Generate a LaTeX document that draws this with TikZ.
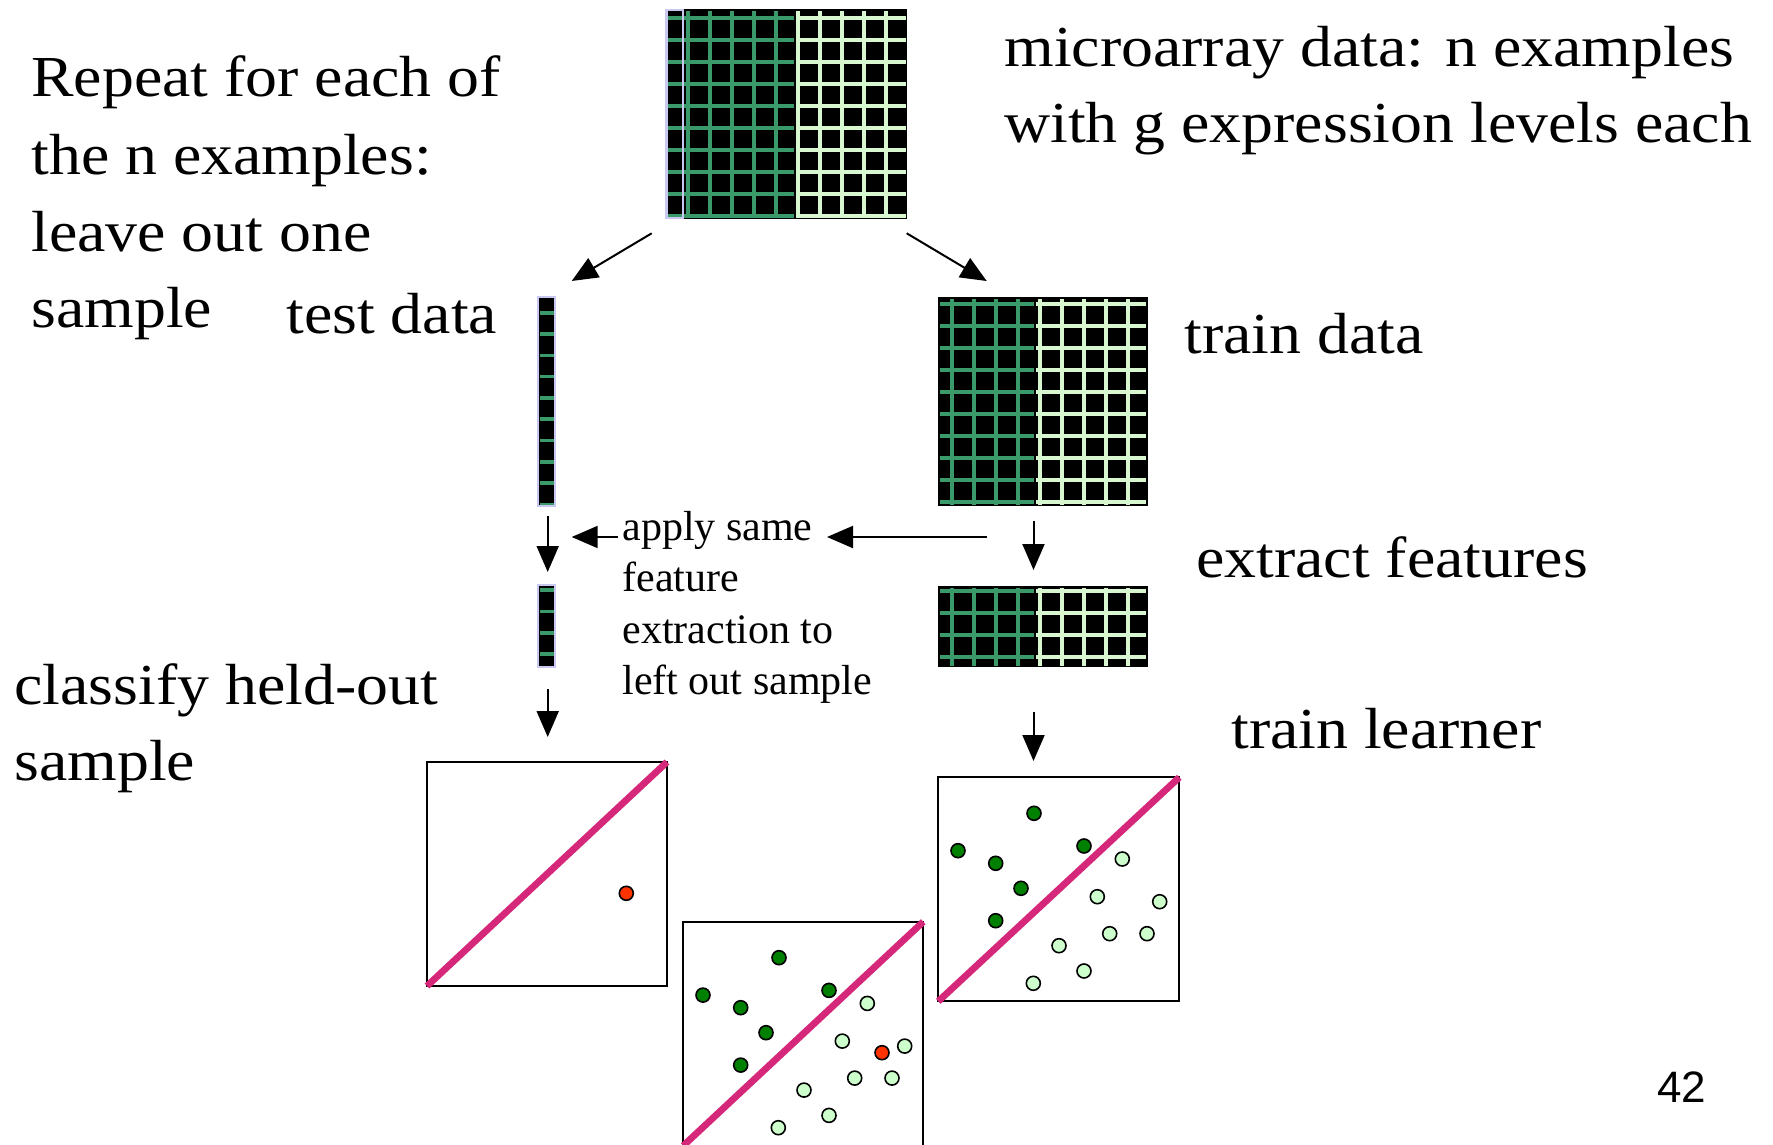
\documentclass[tikz,border=0pt]{standalone}
\usepackage{fontspec}
\setmainfont{Liberation Serif}
\newfontfamily\bigserif[FakeStretch=1.10]{Liberation Serif}
\newfontfamily\pagesans{Liberation Sans}
\usetikzlibrary{arrows.meta}

\definecolor{gridgreen}{RGB}{58,154,106}
\definecolor{gridlight}{RGB}{216,246,208}
\definecolor{rowmark}{RGB}{200,200,240}
\definecolor{boundary}{RGB}{214,40,122}
\definecolor{classA}{RGB}{0,128,0}
\definecolor{classB}{RGB}{204,255,204}
\definecolor{query}{RGB}{255,51,0}

\begin{document}
\begin{tikzpicture}[x=0.5pt,y=-0.5pt,
  bigtext/.style={anchor=base west, inner sep=0pt, font=\bigserif\fontsize{29}{34}\selectfont},
  smalltext/.style={anchor=base west, inner sep=0pt, font=\fontsize{21}{25}\selectfont},
  flow/.style={-{Triangle[length=13pt,width=11pt]}, line width=1pt},
  gline/.style={gridgreen, line width=1.8pt},
  lline/.style={gridlight, line width=1.8pt},
  frame/.style={draw=black, line width=1.1pt},
  sep/.style={boundary, line width=3.4pt},
  dotA/.style={fill=classA, draw=black, line width=0.8pt},
  dotB/.style={fill=classB, draw=black, line width=0.8pt},
  dotQ/.style={fill=query, draw=black, line width=0.8pt}]

\useasboundingbox (0,0) rectangle (1773,1145);

% ---------- full expression matrix ----------
\fill[black] (667,9) rectangle (907,219);
\foreach \y in {18,40,...,216} {
  \draw[gline] (667,\y) -- (794,\y);
  \draw[lline] (796,\y) -- (906,\y);
}
\foreach \x in {688,710,...,776} \draw[gline] (\x,11) -- (\x,218);
\foreach \x in {798,820,...,886} \draw[lline] (\x,11) -- (\x,218);
\draw[rowmark, line width=1.2pt] (666.5,10) rectangle (683,218);

% ---------- training matrix ----------
\fill[black] (938,297) rectangle (1148,506);
\foreach \y in {304,326,...,502} {
  \draw[gline] (940,\y) -- (1034,\y);
  \draw[lline] (1036,\y) -- (1146,\y);
}
\foreach \x in {952,974,996,1018} \draw[gline] (\x,299) -- (\x,505);
\foreach \x in {1040,1062,...,1128} \draw[lline] (\x,299) -- (\x,505);

% ---------- training matrix after feature extraction ----------
\fill[black] (938,586) rectangle (1148,667);
\foreach \y in {591,613,635,657} {
  \draw[gline] (940,\y) -- (1034,\y);
  \draw[lline] (1036,\y) -- (1146,\y);
}
\foreach \x in {952,974,996,1018} \draw[gline] (\x,588) -- (\x,666);
\foreach \x in {1040,1062,...,1128} \draw[lline] (\x,588) -- (\x,666);

% ---------- held-out column ----------
\fill[black] (538,297) rectangle (555,506);
\foreach \k in {0,...,9} \draw[gline] (540,{312.7+21.3*\k}) -- (554,{312.7+21.3*\k});
\draw[rowmark, line width=1pt] (538,297) rectangle (555,506);

% ---------- held-out column after feature extraction ----------
\fill[black] (538,585) rectangle (555,667);
\foreach \y in {590,611.3,632.7,654} \draw[gline] (540,\y) -- (554,\y);
\draw[rowmark, line width=1pt] (538,585) rectangle (555,667);

% ---------- classifier applied to the held-out sample ----------
\begin{scope}[shift={(427,762)}]
  \draw[frame] (0,0) rectangle (240,224);
  \draw[sep] (0,224) -- (240,0);
  \fill[dotQ] (199.3,131.3) circle[radius=3.5pt];
\end{scope}

% ---------- learner with the held-out sample added ----------
\begin{scope}[shift={(683.3,921.7)}]
  \draw[frame] (0,226) -- (0,0) -- (240,0) -- (240,226);
  \draw[sep] (0,224) -- (240,0);
  \foreach \p in {(95.7,36),(19.7,73.4),(57.4,86),(145.7,68.7),(82.7,111),(57.4,143.4)}
    \fill[dotA] \p circle[radius=3.5pt];
  \foreach \p in {(184,81.7),(159,119.4),(221.4,124.4),(171.4,156.4),(208.7,156.4),(120.7,168.4),(145.7,193.7),(95,206)}
    \fill[dotB] \p circle[radius=3.5pt];
  \fill[dotQ] (198.7,131) circle[radius=3.5pt];
\end{scope}

% ---------- trained learner ----------
\begin{scope}[shift={(938.3,777.3)}]
  \draw[frame] (0,0) rectangle (241,224);
  \draw[sep] (0,224) -- (241,0);
  \foreach \p in {(95.7,36),(19.7,73.4),(57.4,86),(145.7,68.7),(82.7,111),(57.4,143.4)}
    \fill[dotA] \p circle[radius=3.5pt];
  \foreach \p in {(184,81.7),(159,119.4),(221.4,124.4),(171.4,156.4),(208.7,156.4),(120.7,168.4),(145.7,193.7),(95,206)}
    \fill[dotB] \p circle[radius=3.5pt];
\end{scope}

% ---------- labels ----------
\node[bigtext] (rep1) at (31,97)  {Repeat for each of};
\node[bigtext] (rep2) at (31,175) {the n examples:};
\node[bigtext] (rep3) at (31,251) {leave out one};
\node[bigtext] (rep4) at (31,327) {sample};
\node[bigtext] (test) at (286,333) {test data};
\node[bigtext] (micro1) at (1004,67)  {microarray data: n examples};
\node[bigtext] (micro2) at (1004,143) {with g expression levels each};
\node[bigtext] (train) at (1184,353) {train data};
\node[bigtext] (extract) at (1196,577) {extract features};
\node[bigtext] (learn) at (1231,748) {train learner};
\node[bigtext] (cls1) at (14,704) {classify held-out};
\node[bigtext] (cls2) at (14,780) {sample};
\node[smalltext] (apply1) at (622,540) {apply same};
\node[smalltext] (apply2) at (622,591) {feature};
\node[smalltext] (apply3) at (622,643) {extraction to};
\node[smalltext] (apply4) at (622,694) {left out sample};
\node[anchor=base west, inner sep=0pt, font=\pagesans\fontsize{22}{26}\selectfont] (page) at (1657,1102) {42};

% ---------- arrow end points ----------
\coordinate (splitL0) at (651.7,233.3);
\coordinate (splitL1) at (571.7,281);
\coordinate (splitR0) at (906.7,233.3);
\coordinate (splitR1) at (986.7,281);
\coordinate (testA0) at (547.7,516);
\coordinate (testA1) at (547.7,572);
\coordinate (testB0) at (547.7,689);
\coordinate (testB1) at (547.7,737);
\coordinate (trainA0) at (1033.5,521);
\coordinate (trainA1) at (1033.5,570);
\coordinate (trainB0) at (1033.5,712);
\coordinate (trainB1) at (1033.5,761);
\coordinate (applyR0) at (987,537);
\coordinate (applyR1) at (827,537);
\coordinate (applyL0) at (618,537);
\coordinate (applyL1) at (571.7,537);

\draw[flow] (splitL0) -- (splitL1);
\draw[flow] (splitR0) -- (splitR1);
\draw[flow] (testA0) -- (testA1);
\draw[flow] (testB0) -- (testB1);
\draw[flow] (trainA0) -- (trainA1);
\draw[flow] (trainB0) -- (trainB1);
\draw[flow] (applyR0) -- (applyR1);
\draw[flow] (applyL0) -- (applyL1);
\end{tikzpicture}
\end{document}
